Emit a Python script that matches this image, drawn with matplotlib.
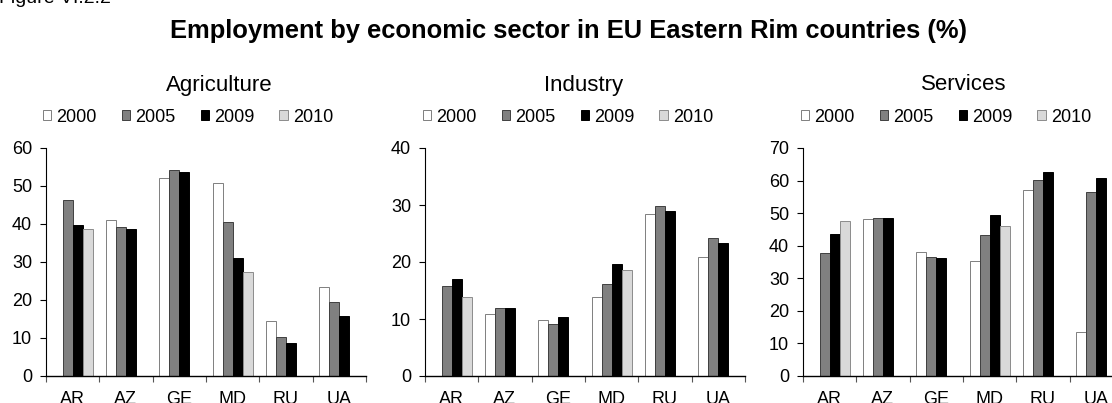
import numpy as np
import matplotlib
matplotlib.use("Agg")
import matplotlib.pyplot as plt
from matplotlib.ticker import FixedLocator, NullFormatter

plt.rcParams['font.family'] = ['Liberation Sans', 'DejaVu Sans']

countries = ['AR', 'AZ', 'GE', 'MD', 'RU', 'UA']
years = ['2000', '2005', '2009', '2010']
nan = np.nan

# employment shares (%) by sector, one list per year
agri_2000 = [nan, 41.0, 52.2, 50.9, 14.5, 23.3]
agri_2005 = [46.2, 39.3, 54.3, 40.6, 10.2, 19.4]
agri_2009 = [39.7, 38.6, 53.6, 31.1, 8.6, 15.8]
agri_2010 = [38.6, nan, nan, 27.5, nan, nan]

ind_2000 = [nan, 10.9, 9.75, 13.9, 28.4, 20.8]
ind_2005 = [15.8, 12.0, 9.2, 16.1, 29.9, 24.2]
ind_2009 = [17.1, 11.9, 10.4, 19.7, 28.9, 23.4]
ind_2010 = [13.9, nan, nan, 18.6, nan, nan]

serv_2000 = [nan, 48.2, 38.0, 35.2, 57.2, 13.4]
serv_2005 = [37.8, 48.6, 36.4, 43.4, 60.1, 56.5]
serv_2009 = [43.6, 48.5, 36.2, 49.4, 62.5, 60.8]
serv_2010 = [47.6, nan, nan, 46.2, nan, nan]

panels = [
    ('Agriculture', [agri_2000, agri_2005, agri_2009, agri_2010], 60, 10),
    ('Industry', [ind_2000, ind_2005, ind_2009, ind_2010], 40, 10),
    ('Services', [serv_2000, serv_2005, serv_2009, serv_2010], 70, 10),
]

face = ['white', '#808080', 'black', '#d9d9d9']
edge = ['#7f7f7f', '#404040', 'black', '#8c8c8c']

fig = plt.figure(figsize=(11.12, 4.03), dpi=100)
W, H = 1112, 403

ax_left = [46, 425, 803]
title_x = [219, 584, 964]
legend_x = [188, 568, 946]
ax_w = 320

fig.text(-1 / W, 1 - 3 / H, 'Figure VI.2.2', fontsize=14, va='baseline', ha='left')
fig.text(569 / W, 1 - 31 / H, 'Employment by economic sector in EU Eastern Rim countries (%)',
         fontsize=18.4, fontweight='bold', ha='center', va='center')

x = np.arange(len(countries))
bw = 0.1875

for i, (name, series, ymax, step) in enumerate(panels):
    ax = fig.add_axes([ax_left[i] / W, 1 - 376 / H, ax_w / W, (376 - 148) / H])
    for j, vals in enumerate(series):
        ax.bar(x + (j - 1.5) * bw, vals, width=bw, color=face[j], edgecolor=edge[j],
               linewidth=0.7, label=years[j])
    ax.set_xlim(-0.5, len(countries) - 0.5)
    ax.set_ylim(0, ymax)
    ax.set_yticks(np.arange(0, ymax + 1, step))
    ax.set_xticks(x)
    ax.set_xticklabels(countries)
    ax.xaxis.set_minor_locator(FixedLocator(np.arange(-0.5, len(countries), 1)))
    ax.xaxis.set_minor_formatter(NullFormatter())
    ax.tick_params(axis='x', which='major', length=0, pad=10.5, labelsize=13)
    ax.tick_params(axis='x', which='minor', length=4, width=0.8, color='#555555', direction='out')
    ax.tick_params(axis='y', length=4, width=0.8, labelsize=13, pad=6)
    for s in ['top', 'right']:
        ax.spines[s].set_visible(False)
    ax.spines['left'].set_linewidth(0.8)
    ax.spines['bottom'].set_linewidth(1.0)
    fig.text(title_x[i] / W, 1 - 85 / H, name, fontsize=16, ha='center', va='center')
    ax.legend(loc='center', bbox_to_anchor=(legend_x[i] / W, 1 - 117 / H),
              bbox_transform=fig.transFigure, ncol=4, frameon=False, fontsize=13,
              handlelength=0.45, handleheight=0.45, handletextpad=0.28,
              columnspacing=1.4, borderpad=0)

fig.savefig('out.png', dpi=100)
